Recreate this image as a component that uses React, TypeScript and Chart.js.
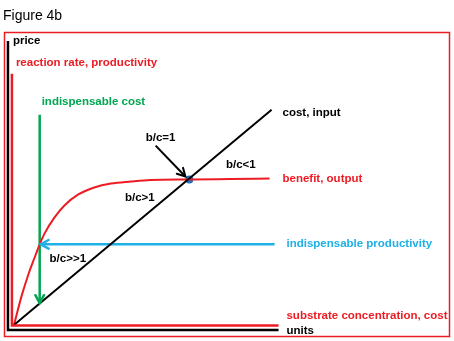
import React, { useEffect, useRef } from 'react';
import { Chart, registerables } from 'chart.js';
Chart.register(...registerables);

// Data (units: x = substrate / cost units, y = price units, origin at the curves' start)
const costX = [0, 260];
const costY = [0, 216];
const benefitX = [0, 8, 15, 21, 26, 31, 41, 51, 65, 81, 98, 118, 138, 177, 218, 258];
const benefitY = [0, 30, 52, 68, 81, 92, 108, 120, 131, 138, 142, 144, 145.5, 146, 146.5, 147];
const breakEven = [{ x: 177, y: 146 }];
const indispensableCostX = [26, 26];
const indispensableCostY = [211, 22];
const indispensableProdX = [263, 27];
const indispensableProdY = [81, 81];
const ratioArrowX = [143, 173];
const ratioArrowY = [180, 149];
const priceAxisX = [-6, -6, 267];
const priceAxisY = [285, -5, -5];
const rateAxisX = [-2, -2, 267];
const rateAxisY = [252, -0.5, -0.5];

const labelTexts = [
  'price', 'reaction rate, productivity', 'indispensable cost', 'cost, input', 'b/c=1', 'b/c<1',
  'benefit, output', 'b/c>1', 'indispensable productivity', 'b/c>>1', 'substrate concentration, cost', 'units',
];
const labelX = [-1, 2, 28, 271, 133, 214, 271, 112, 275, 36, 275, 275];
const labelY = [282, 260, 221, 210, 185, 158, 144, 124, 78, 63, 6, -9];
const labelColor = ['k', 'r', 'g', 'k', 'k', 'k', 'r', 'k', 'b', 'k', 'r', 'k'];

const COLORS: Record<string, string> = { k: '#000000', r: '#ed1c24', g: '#00a651', b: '#1fb0e6' };

const zip = (xs: number[], ys: number[]) => xs.map((x, i) => ({ x, y: ys[i] }));

export default function App() {
  const ref = useRef<HTMLCanvasElement | null>(null);
  useEffect(() => {
    if (!ref.current) return;
    const overlay = {
      id: 'overlay',
      afterDatasetsDraw(chart: any) {
        const ctx = chart.ctx;
        const xs = chart.scales.x;
        const ys = chart.scales.y;
        // arrowheads
        chart.data.datasets.forEach((ds: any) => {
          if (!ds.arrow) return;
          const n = ds.data.length;
          const p1 = ds.data[n - 2];
          const p2 = ds.data[n - 1];
          const x1 = xs.getPixelForValue(p1.x), y1 = ys.getPixelForValue(p1.y);
          const x2 = xs.getPixelForValue(p2.x), y2 = ys.getPixelForValue(p2.y);
          const a = Math.atan2(y2 - y1, x2 - x1);
          const L = 9, w = 0.5;
          ctx.save();
          ctx.strokeStyle = ds.borderColor;
          ctx.lineWidth = ds.borderWidth;
          ctx.lineCap = 'round';
          ctx.beginPath();
          ctx.moveTo(x2 - L * Math.cos(a - w), y2 - L * Math.sin(a - w));
          ctx.lineTo(x2, y2);
          ctx.lineTo(x2 - L * Math.cos(a + w), y2 - L * Math.sin(a + w));
          ctx.stroke();
          ctx.restore();
        });
        // labels
        ctx.save();
        ctx.font = 'bold 11.5px "Liberation Sans", Arial, sans-serif';
        ctx.textBaseline = 'alphabetic';
        ctx.textAlign = 'left';
        labelTexts.forEach((t, i) => {
          ctx.fillStyle = COLORS[labelColor[i]];
          ctx.fillText(t, xs.getPixelForValue(labelX[i]), ys.getPixelForValue(labelY[i]));
        });
        ctx.restore();
      },
      afterDraw(chart: any) {
        const ctx = chart.ctx;
        const ca = chart.chartArea;
        ctx.save();
        ctx.strokeStyle = '#ed1c24';
        ctx.lineWidth = 1.5;
        ctx.strokeRect(ca.left + 0.5, ca.top + 0.5, ca.right - ca.left - 1, ca.bottom - ca.top - 1);
        ctx.fillStyle = '#000';
        ctx.font = '14px "Liberation Sans", Arial, sans-serif';
        ctx.textBaseline = 'alphabetic';
        ctx.fillText('Figure 4b', ca.left - 1, ca.top - 12);
        ctx.restore();
      },
    };
    const line = (data: any[], color: string, width: number, extra: any = {}) => ({
      data,
      showLine: true,
      borderColor: color,
      backgroundColor: color,
      borderWidth: width,
      pointRadius: 0,
      fill: false,
      ...extra,
    });
    const chart = new Chart(ref.current, {
      type: 'scatter',
      data: {
        datasets: [
          line(zip(priceAxisX, priceAxisY), '#000000', 2.5, { borderCapStyle: 'butt', borderJoinStyle: 'miter' }),
          line(zip(rateAxisX, rateAxisY), '#ed1c24', 2.5, { borderCapStyle: 'butt', borderJoinStyle: 'miter' }),
          line(zip(costX, costY), '#000000', 2),
          line(zip(benefitX, benefitY), '#ed1c24', 2, { cubicInterpolationMode: 'monotone' }),
          line(zip(indispensableCostX, indispensableCostY), '#00a651', 2.5, { arrow: true }),
          line(zip(indispensableProdX, indispensableProdY), '#1fb0e6', 2.5, { arrow: true }),
          line(zip(ratioArrowX, ratioArrowY), '#000000', 2, { arrow: true }),
          { data: breakEven, showLine: false, pointRadius: 4, backgroundColor: '#1f6fc0', borderColor: '#1f6fc0', borderWidth: 0 },
        ] as any,
      },
      options: {
        responsive: false,
        animation: false,
        layout: { padding: { left: 2, top: 32, right: 2, bottom: 3 } },
        plugins: { legend: { display: false }, tooltip: { enabled: false }, title: { display: false } },
        scales: {
          x: { type: 'linear', display: false, min: -10, max: 440 },
          y: { type: 'linear', display: false, min: -12, max: 294 },
        },
        events: [],
      } as any,
      plugins: [overlay],
    });
    return () => chart.destroy();
  }, []);
  return (
    <div style={{ position: 'fixed', left: 0, top: 0, width: 454, height: 341, background: '#fff' }}>
      <canvas ref={ref} width={454} height={341} style={{ display: 'block' }} />
    </div>
  );
}
